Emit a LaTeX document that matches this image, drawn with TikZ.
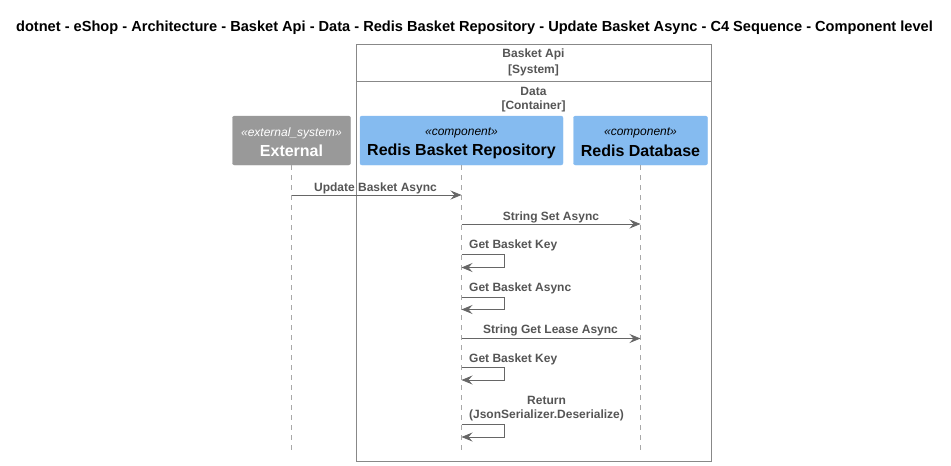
\documentclass[tikz,border=0pt]{standalone}
\usepackage{fontspec}
\setmainfont{Liberation Sans}
\usetikzlibrary{arrows.meta,calc}
\definecolor{linegray}{HTML}{666666}
\definecolor{textgray}{HTML}{555555}
\definecolor{extgray}{HTML}{999999}
\definecolor{compblue}{HTML}{85BBF0}
\definecolor{boxline}{HTML}{888888}
\definecolor{lifegray}{HTML}{A8A8A8}
\tikzset{
  titletext/.style={font=\fontsize{14.6}{16}\selectfont\bfseries, inner sep=0pt},
  boundary/.style={draw=boxline, line width=0.8pt, rectangle, inner sep=0pt, anchor=north west},
  boundtext/.style={font=\fontsize{12}{14}\selectfont\bfseries, text=textgray, inner sep=0pt},
  extbox/.style={fill=extgray, draw=extgray, rounded corners=2pt, inner sep=0pt},
  compbox/.style={fill=compblue, draw=compblue, rounded corners=2pt, inner sep=0pt},
  stereo/.style={font=\fontsize{12}{14}\selectfont\itshape, inner sep=0pt},
  pname/.style={font=\fontsize{16}{18}\selectfont\bfseries, inner sep=0pt},
  lifeline/.style={draw=lifegray, dash pattern=on 5pt off 5pt, line width=0.6pt},
  msg/.style={draw=linegray, line width=0.8pt, -{Stealth[length=11pt,width=9pt,inset=4pt]}},
  msgtext/.style={font=\fontsize{12}{14}\selectfont\bfseries, text=textgray, inner sep=0pt},
}
\begin{document}
\begin{tikzpicture}[x=1pt,y=-1pt]
\useasboundingbox (0,0) rectangle (951,466);
\node[titletext] (title) at (474.5,28) {dotnet - eShop - Architecture - Basket Api - Data - Redis Basket Repository - Update Basket Async - C4 Sequence - Component level};

% boundaries
\node[boundary, minimum width=355pt, minimum height=417pt] (sys) at (356,44) {};
\coordinate (divL) at (356,81);
\coordinate (divR) at (711,81);
\draw[draw=boxline, line width=0.8pt] (divL) -- (divR);
\node[boundtext] (systitle) at (533.5,54) {Basket Api};
\node[boundtext] (systype) at (533.5,70) {[System]};
\node[boundtext] (contitle) at (533.5,91) {Data};
\node[boundtext] (contype) at (533.5,106) {[Container]};

% participants
\node[extbox, minimum width=118pt, minimum height=49pt] (ext) at (291.5,140.5) {};
\node[stereo, text=white] (extst) at (291.5,133) {«external\_system»};
\node[pname, text=white] (extnm) at (291.5,151) {External};

\node[compbox, minimum width=203pt, minimum height=49pt] (repo) at (461.5,140.5) {};
\node[stereo] (repost) at (461.5,133) {«component»};
\node[pname] (reponm) at (461.5,151) {Redis Basket Repository};

\node[compbox, minimum width=134pt, minimum height=49pt] (db) at (640.5,140.5) {};
\node[stereo] (dbst) at (640.5,133) {«component»};
\node[pname] (dbnm) at (640.5,151) {Redis Database};

% lifelines
\coordinate (extE) at (291.5,452);
\coordinate (repoE) at (461.5,452);
\coordinate (dbE) at (640.5,452);
\draw[lifeline] (ext.south) -- (extE);
\draw[lifeline] (repo.south) -- (repoE);
\draw[lifeline] (db.south) -- (dbE);

% messages
\draw[msg] (ext.south |- 0,195) -- (repo.south |- 0,195);
\node[msgtext] (m1) at (375.5,188) {Update Basket Async};

\draw[msg] (repo.south |- 0,224) -- (db.south |- 0,224);
\node[msgtext] (m2) at (551,217) {String Set Async};

\node[msgtext, anchor=west] (m3) at (469,245.5) {Get Basket Key};
\draw[msg] (repo.south |- 0,254.5) -- ++(43,0) -- ++(0,13) -- (repo.south |- 0,267.5);

\node[msgtext, anchor=west] (m4) at (469,288) {Get Basket Async};
\draw[msg] (repo.south |- 0,297) -- ++(43,0) -- ++(0,12.5) -- (repo.south |- 0,309.5);

\draw[msg] (repo.south |- 0,338.5) -- (db.south |- 0,338.5);
\node[msgtext] (m5) at (550.5,330.5) {String Get Lease Async};

\node[msgtext, anchor=west] (m6) at (469,359) {Get Basket Key};
\draw[msg] (repo.south |- 0,367.5) -- ++(43,0) -- ++(0,12.5) -- (repo.south |- 0,380);

\node[msgtext, align=center] (m7) at (546.5,408.5) {Return\\(JsonSerializer.Deserialize)};
\draw[msg] (repo.south |- 0,424.5) -- ++(43,0) -- ++(0,12.5) -- (repo.south |- 0,437);
\end{tikzpicture}
\end{document}
